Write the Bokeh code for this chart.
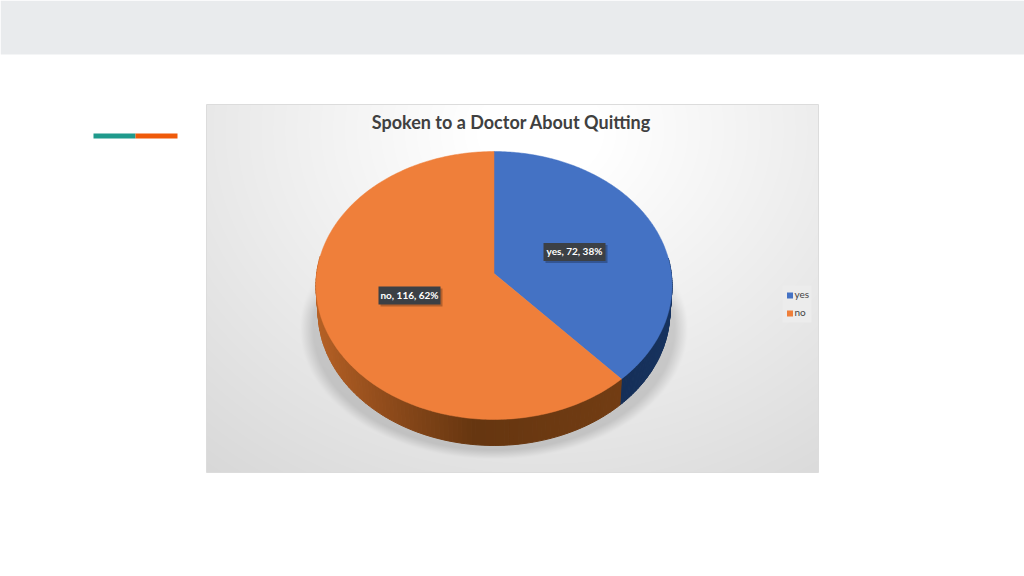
import numpy as np
from bokeh.plotting import figure
from bokeh.embed import file_html
from bokeh.resources import INLINE
from bokeh.core.properties import value

TITLE = "Spoken to a Doctor About Quitting"
categories = ["yes", "no"]
counts = [72, 116]
percent_labels = ["38%", "62%"]
top_colors = ["#4472c4", "#ef7f3a"]

FONT = value("Lato")
W, H = 1024, 576
def Y(py):
    return 576 - np.asarray(py, dtype=float)

p = figure(width=W, height=H, output_backend="svg", toolbar_location=None,
           x_range=(0, 1024), y_range=(0, 576), min_border=0, x_axis_type=None, y_axis_type=None)
p.grid.visible = False
p.outline_line_color = None
p.background_fill_color = "white"
p.border_fill_color = "white"

# page decoration
p.quad(left=0, right=1024, bottom=Y(54), top=576, fill_color="#e9ebed", line_color=None)
p.quad(left=93, right=135, bottom=Y(138), top=Y(133), fill_color="#1f9a8c", line_color=None)
p.quad(left=135, right=177, bottom=Y(138), top=Y(133), fill_color="#ef5a0a", line_color=None)

# chart panel: soft radial background and pie shadow as one raster
PL, PR, PT, PB = 206, 818, 104, 472
xs, ys = np.meshgrid(np.arange(PL, PR) + .5, np.arange(PT, PB) + .5)
d = np.sqrt(((xs - 540) / 430) ** 2 + ((ys - 130) / 360) ** 2)
g = 255 - 36 * np.clip(d - 0.15, 0, 1.1) ** 1.0
sd = np.sqrt(((xs - 493.5) / 190) ** 2 + ((ys - 328) / 128) ** 2)
shadow = np.clip((1.02 - sd) / 0.07, 0, 1) * np.clip((ys - 270) / 40, 0, 1)
g = g * (1 - 0.15 * shadow)
g = np.clip(g, 0, 255).astype(np.uint32)
img = (255 << 24) | (g << 16) | (g << 8) | g
img = img[::-1].astype(np.uint32)
p.image_rgba(image=[img], x=PL, y=Y(PB), dw=PR - PL, dh=PB - PT)
p.quad(left=PL, right=PR, bottom=Y(PB), top=Y(PT), fill_color=None, line_color="#dcdcdc", line_width=1)

# perspective disc: apex at (CX, CY), front rim at y=419, back rim at y=151
CX, CY, K, A, B, DEPTH = 493.5, 273.0, 177.3, 132.9, -0.0896, 26.0
def rim(theta, drop=0.0, shrink=1.0):
    # theta is clockwise from the back of the disc: screen y grows towards the viewer
    u, vv = np.sin(theta), np.cos(theta)
    den = 1 - B * vv
    px = CX + K * u / den * shrink
    py = CY - A * vv / den + drop
    return px, py

fractions = np.array(counts, dtype=float) / sum(counts)
edges = np.concatenate([[0], np.cumsum(fractions)]) * 2 * np.pi

def wall_shade(i, t):
    # t: 0 at right side of the disc, 1 at left side
    if i == 0:
        c0, c1 = np.array([0x18, 0x34, 0x60]), np.array([0x12, 0x2a, 0x50])
        c = c0 + (c1 - c0) * min(t * 3, 1)
    else:
        stops_t = [0.0, 0.55, 0.75, 1.0]
        r = np.interp(t, stops_t, [0x78, 0x66, 0x8a, 0xb8])
        g_ = np.interp(t, stops_t, [0x40, 0x36, 0x49, 0x62])
        b = np.interp(t, stops_t, [0x15, 0x10, 0x1a, 0x26])
        c = np.array([r, g_, b])
    return "#%02x%02x%02x" % tuple(int(x) for x in c)

for i in range(len(counts)):
    th = np.linspace(edges[i], edges[i + 1], 160)
    for a, b in zip(th[:-1], th[1:]):
        mid = (a + b) / 2
        if np.cos(mid) > 0.12:
            continue
        x1, y1 = rim(a)
        x2, y2 = rim(b)
        x3, y3 = rim(b, DEPTH, .988)
        x4, y4 = rim(a, DEPTH, .988)
        color = wall_shade(i, (1 - np.sin(mid)) / 2)
        p.patch([x1, x2, x3, x4], Y([y1, y2, y3, y4]), fill_color=color, line_color=color, line_width=1)

for i in range(len(counts)):
    th = np.linspace(edges[i], edges[i + 1], 240)
    rx, ry = rim(th)
    px = np.concatenate([[CX], rx])
    py = np.concatenate([[CY], ry])
    p.patch(px, Y(py), fill_color=top_colors[i], line_color=top_colors[i], line_width=0.5)

# data labels
LBL = [(574, 251.5, 62, 18), (409, 295, 62, 18)]
for i in range(len(counts)):
    lx, ly, lw, lh = LBL[i]
    p.rect(x=lx + 2, y=Y(ly + 2), width=lw, height=lh, fill_color="#000000", fill_alpha=0.25, line_color=None)
    p.rect(x=lx, y=Y(ly), width=lw, height=lh, fill_color="#3c4045", line_color=None)
    p.text(x=[lx], y=Y([ly - 1]), text=[f"{categories[i]}, {counts[i]}, {percent_labels[i]}"],
           text_font=FONT, text_font_style="bold", text_font_size="10px", text_color="white",
           text_align="center", text_baseline="middle")

# title
p.text(x=[511], y=Y([121]), text=[TITLE], text_font=FONT, text_font_style="bold",
       text_font_size="18px", text_color="#404040", text_align="center", text_baseline="middle")

# legend
p.quad(left=782, right=811, bottom=Y(322), top=Y(285), fill_color="#ececec", line_color=None)
for i, py0 in enumerate([295, 313]):
    p.rect(x=789.5, y=Y(py0), width=6, height=6, fill_color=top_colors[i], line_color=None)
    p.text(x=[794], y=Y([py0 - 1.5]), text=[categories[i]], text_font=FONT, text_font_size="10px",
           text_color="#444444", text_align="left", text_baseline="middle")

open("out.html", "w").write(file_html(p, INLINE))
